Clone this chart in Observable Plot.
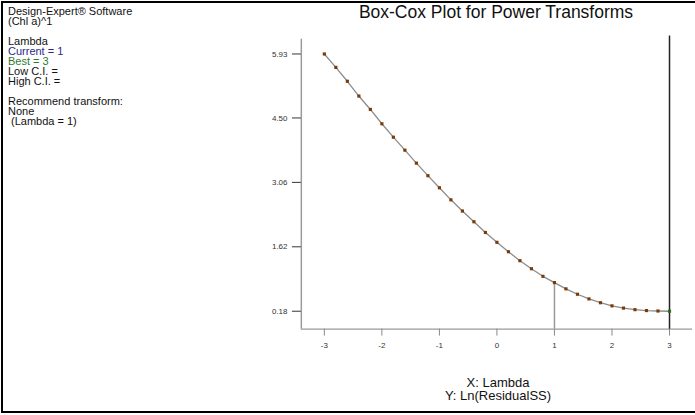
<!DOCTYPE html>
<html>
<head>
<meta charset="utf-8">
<script src="https://cdn.jsdelivr.net/npm/d3@7"></script>
<script src="https://cdn.jsdelivr.net/npm/@observablehq/plot@0.6"></script>
<style>
  html, body { margin: 0; padding: 0; background: #fff; overflow: hidden; }
  #wrap { position: relative; width: 695px; height: 415px; overflow: hidden; font-family: "Liberation Sans", Arial, sans-serif; }
  #frame { position: absolute; left: 1px; top: 1px; width: 720px; height: 412px; border: 2px solid #000; box-sizing: border-box; }
  #info { position: absolute; left: 8px; top: 6px; font-size: 11px; line-height: 10px; color: #111; }
  #info div { height: 10px; line-height: 10px; white-space: pre; }
  #title { position: absolute; left: 296px; width: 400px; top: 2px; line-height: 20px; text-align: center; font-size: 17.5px; color: #111; }
  #xlab { position: absolute; left: 398px; width: 200px; top: 376px; text-align: center; font-size: 13px; line-height: 13px; color: #111; }
  #chart { position: absolute; left: 0; top: 0; }
</style>
</head>
<body>
<div id="wrap">
  <div id="frame"></div>
  <div id="info"></div>
  <div id="title">Box-Cox Plot for Power Transforms</div>
  <div id="xlab"><div>X: Lambda</div><div>Y: Ln(ResidualSS)</div></div>
  <div id="chart"></div>
</div>
<script>
// ---- data ----
const lambdas = [-3, -2.8, -2.6, -2.4, -2.2, -2, -1.8, -1.6, -1.4, -1.2, -1, -0.8, -0.6, -0.4, -0.2, 0,
                 0.2, 0.4, 0.6, 0.8, 1, 1.2, 1.4, 1.6, 1.8, 2, 2.2, 2.4, 2.6, 2.8, 3];
const lnResidualSS = [5.93, 5.63, 5.32, 4.99, 4.69, 4.37, 4.07, 3.78, 3.49, 3.21, 2.94, 2.67, 2.42, 2.18, 1.94, 1.72,
                      1.51, 1.31, 1.13, 0.96, 0.82, 0.68, 0.56, 0.455, 0.37, 0.30, 0.25, 0.215, 0.195, 0.185, 0.18];
const yTicks = [0.18, 1.62, 3.06, 4.50, 5.93];
const xTicks = [-3, -2, -1, 0, 1, 2, 3];
const xDomain = [-3.4, 3.4];
const yDomain = [-0.22, 6.26];
const currentLambda = 1;
const bestLambda = 3;
const infoLines = [
  ["Design-Expert® Software", "#111"],
  ["(Chl a)^1", "#111"],
  ["", "#111"],
  ["Lambda", "#111"],
  ["Current = 1", "#2b2b86"],
  ["Best = 3", "#2f7a2f"],
  ["Low C.I. =", "#111"],
  ["High C.I. =", "#111"],
  ["", "#111"],
  ["Recommend transform:", "#111"],
  ["None", "#111"],
  [" (Lambda = 1)", "#111"]
];

const info = document.getElementById("info");
for (const [t, c] of infoLines) {
  const d = document.createElement("div");
  d.textContent = t;
  d.style.color = c;
  info.appendChild(d);
}

const data = lambdas.map((x, i) => ({x, y: lnResidualSS[i]}));
const currentY = lnResidualSS[lambdas.indexOf(currentLambda)];

const chart = Plot.plot({
  width: 700,
  height: 415,
  marginLeft: 303,
  marginRight: 3,
  marginTop: 39,
  marginBottom: 84,
  style: {fontFamily: "'Liberation Sans', Arial, sans-serif", background: "transparent", overflow: "visible"},
  x: {domain: xDomain},
  y: {domain: yDomain},
  marks: [
    Plot.ruleX([xDomain[0]], {stroke: "#9a9a9a", strokeWidth: 1.5}),
    Plot.ruleY([yDomain[0]], {stroke: "#9a9a9a", strokeWidth: 1.5}),
    Plot.axisY(yTicks, {tickSize: 9, tickPadding: 5, fontSize: 8, stroke: "#333", fill: "#333", tickFormat: d => d.toFixed(2), label: null}),
    Plot.axisX(xTicks, {tickSize: 7, tickPadding: 6, fontSize: 8, stroke: "#888", fill: "#333", tickFormat: d => d, label: null}),
    Plot.ruleX([currentLambda], {y1: currentY, y2: yDomain[0], stroke: "#999", strokeWidth: 1.5}),
    Plot.ruleX([bestLambda], {y1: yDomain[1] + 0.07, y2: yDomain[0], stroke: "#222", strokeWidth: 1.5}),
    Plot.line(data, {x: "x", y: "y", stroke: "#8c8c8c", strokeWidth: 1.3}),
    Plot.dot(data.slice(0, -1), {x: "x", y: "y", symbol: "square", r: 1.8, fill: "#7a3b08", stroke: "none"}),
    Plot.dot(data.slice(-1), {x: "x", y: "y", symbol: "square", r: 1.8, fill: "#2e6b1e", stroke: "none"})
  ]
});
document.getElementById("chart").appendChild(chart);
</script>
</body>
</html>
